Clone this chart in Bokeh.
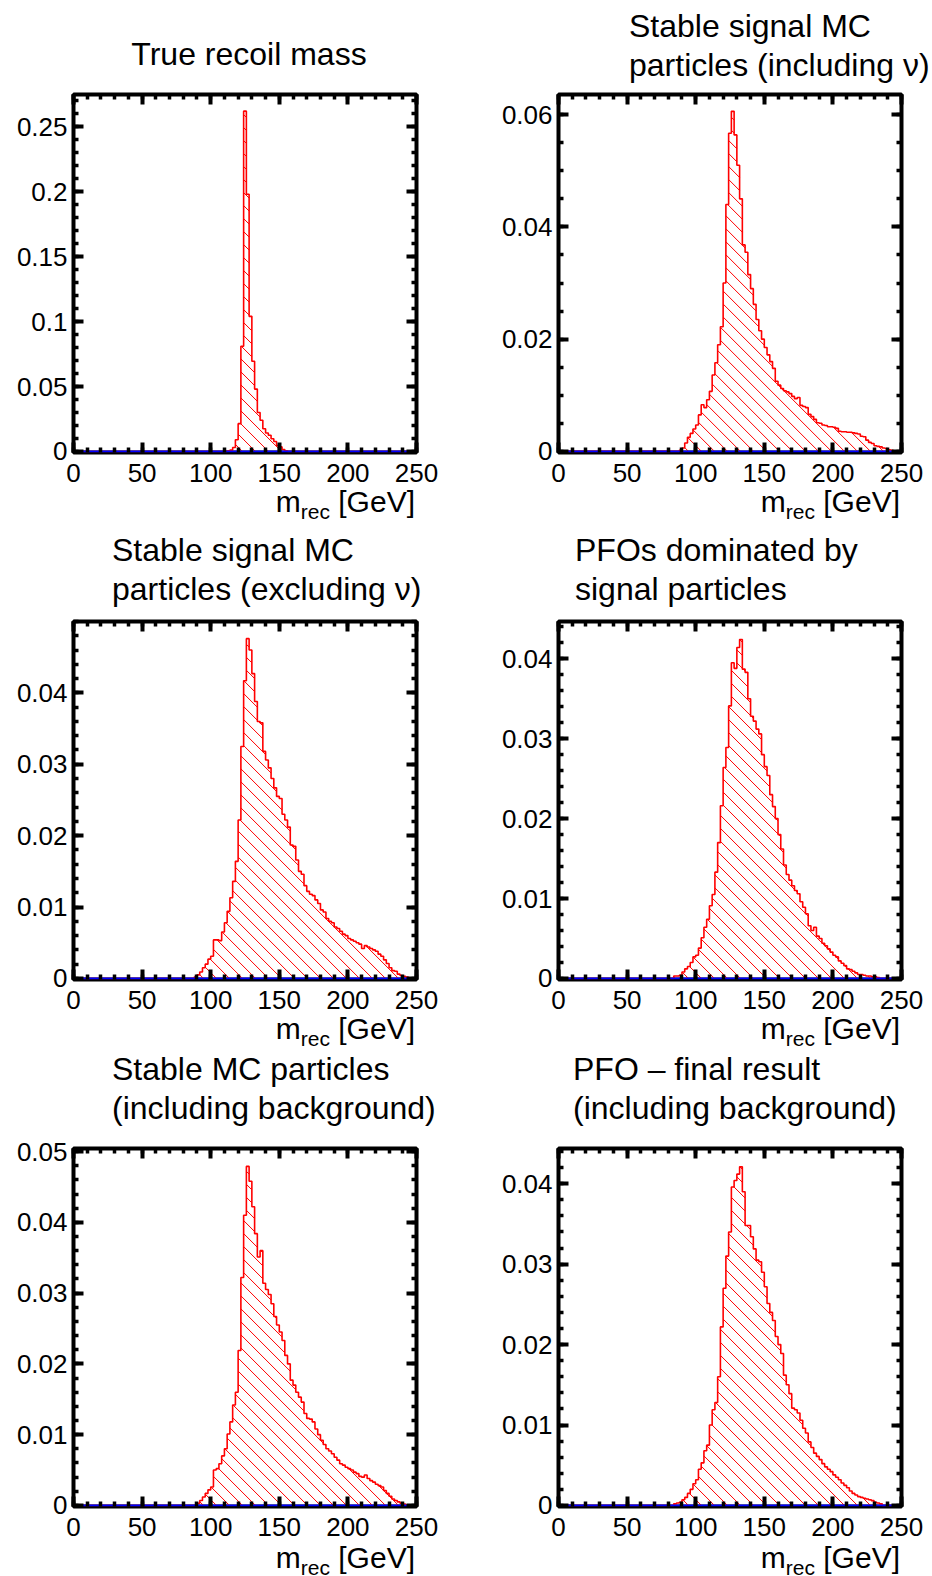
import numpy as np
from bokeh.plotting import figure
from bokeh.layouts import column, row
from bokeh.models import FixedTicker, LinearAxis, Range1d, Div
from bokeh.embed import file_html
from bokeh.resources import INLINE

FONT = "Liberation Sans"

# ---------------- data ----------------
bin_width = 2
x_lo, x_hi = 0, 250
x_major = [0, 50, 100, 150, 200, 250]
x_major_labels = ["0", "50", "100", "150", "200", "250"]
x_minor = list(range(0, 251, 10))

# Panel 1: True recoil mass
p1_title = ["True recoil mass"]
p1_first_bin = 112
p1_values = [0.0005, 0.001, 0.003, 0.009, 0.0214, 0.081, 0.262, 0.198, 0.104,
             0.0695, 0.048, 0.030, 0.024, 0.0175, 0.0142, 0.0125, 0.0098,
             0.0077, 0.0045, 0.0035, 0.0015, 0.0005]
p1_y_ticks = [0, 0.05, 0.1, 0.15, 0.2, 0.25]
p1_y_labels = ["0", "0.05", "0.1", "0.15", "0.2", "0.25"]

# Panel 2: Stable signal MC particles (including nu)
p2_title = ["Stable signal MC", "particles (including \u03bd)"]
p2_first_bin = 88
p2_values = [0.0002, 0.0006, 0.0015, 0.0025, 0.0032, 0.0040, 0.0047, 0.0065,
             0.0083, 0.0078, 0.0092, 0.0107, 0.0136, 0.0158, 0.0190, 0.0222,
             0.0300, 0.0440, 0.0567, 0.0606, 0.0564, 0.0510, 0.0450, 0.0368,
             0.0355, 0.0315, 0.0290, 0.0262, 0.0235, 0.0215, 0.0200, 0.0185,
             0.0172, 0.0160, 0.0148, 0.0125, 0.0118, 0.0112, 0.0108, 0.0106,
             0.0103, 0.0098, 0.0094, 0.0096, 0.0082, 0.0080, 0.0078, 0.0066,
             0.0062, 0.0057, 0.0051, 0.0050, 0.0047, 0.0046, 0.0044, 0.0044,
             0.0043, 0.0041, 0.0036, 0.0035, 0.0035, 0.0034, 0.0034, 0.0033,
             0.0032, 0.0031, 0.0027, 0.0026, 0.0020, 0.0016, 0.0014, 0.0010,
             0.0009, 0.0008, 0.0006, 0.0005, 0.0003, 0.0002, 0.0001]
p2_y_ticks = [0, 0.02, 0.04, 0.06]
p2_y_labels = ["0", "0.02", "0.04", "0.06"]

# Panel 3: Stable signal MC particles (excluding nu)
p3_title = ["Stable signal MC", "particles (excluding \u03bd)"]
p3_first_bin = 88
p3_values = [0.0002, 0.0005, 0.0009, 0.0015, 0.0020, 0.0027, 0.0031, 0.0054,
             0.0054, 0.0053, 0.0065, 0.0078, 0.0094, 0.0113, 0.0136, 0.0164,
             0.0222, 0.0325, 0.0417, 0.0476, 0.0460, 0.0427, 0.0388, 0.0360,
             0.0358, 0.0318, 0.0306, 0.0295, 0.0280, 0.0267, 0.0255, 0.0252,
             0.0230, 0.0222, 0.0212, 0.0187, 0.0185, 0.0166, 0.0150, 0.0146,
             0.0130, 0.0122, 0.0118, 0.0116, 0.0110, 0.0105, 0.0096, 0.0093,
             0.0084, 0.0080, 0.0078, 0.0072, 0.0070, 0.0066, 0.0062, 0.0060,
             0.0056, 0.0054, 0.0052, 0.0050, 0.0048, 0.0042, 0.0046, 0.0044,
             0.0042, 0.0040, 0.0038, 0.0034, 0.0031, 0.0026, 0.0021, 0.0015,
             0.0011, 0.0010, 0.0006, 0.0004, 0.0003, 0.0002, 0.0001]
p3_y_ticks = [0, 0.01, 0.02, 0.03, 0.04]
p3_y_labels = ["0", "0.01", "0.02", "0.03", "0.04"]

# Panel 4: PFOs dominated by signal particles
p4_title = ["PFOs dominated by", "signal particles"]
p4_first_bin = 84
p4_values = [0.0003, 0.0003, 0.0004, 0.0008, 0.0012, 0.0015, 0.0020, 0.0027,
             0.0029, 0.0038, 0.0051, 0.0064, 0.0074, 0.0091, 0.0105, 0.0133,
             0.0170, 0.0216, 0.0264, 0.0289, 0.0341, 0.0395, 0.0388, 0.0414,
             0.0424, 0.0387, 0.0383, 0.0350, 0.0328, 0.0322, 0.0312, 0.0306,
             0.0280, 0.0265, 0.0254, 0.0230, 0.0215, 0.0200, 0.0180, 0.0162,
             0.0142, 0.0130, 0.0123, 0.0116, 0.0110, 0.0106, 0.0096, 0.0089,
             0.0081, 0.0066, 0.0060, 0.0064, 0.0053, 0.0050, 0.0044, 0.0041,
             0.0037, 0.0033, 0.0029, 0.0027, 0.0022, 0.0019, 0.0016, 0.0012,
             0.0011, 0.0009, 0.0007, 0.0005, 0.0005, 0.0004, 0.0003, 0.0003,
             0.0002, 0.0002, 0.0001]
p4_y_ticks = [0, 0.01, 0.02, 0.03, 0.04]
p4_y_labels = ["0", "0.01", "0.02", "0.03", "0.04"]

# Panel 5: Stable MC particles (including background)
p5_title = ["Stable MC particles", "(including background)"]
p5_first_bin = 90
p5_values = [0.0003, 0.0007, 0.0012, 0.0017, 0.0022, 0.0026, 0.0050, 0.0052,
             0.0059, 0.0070, 0.0080, 0.0101, 0.0118, 0.0142, 0.0160, 0.0219,
             0.0322, 0.0410, 0.0479, 0.0458, 0.0422, 0.0384, 0.0351, 0.0360,
             0.0314, 0.0305, 0.0298, 0.0285, 0.0267, 0.0255, 0.0245, 0.0233,
             0.0212, 0.0200, 0.0177, 0.0170, 0.0160, 0.0153, 0.0146, 0.0130,
             0.0123, 0.0122, 0.0118, 0.0108, 0.0100, 0.0092, 0.0086, 0.0080,
             0.0077, 0.0073, 0.0068, 0.0064, 0.0059, 0.0057, 0.0054, 0.0052,
             0.0050, 0.0047, 0.0045, 0.0041, 0.0040, 0.0043, 0.0038, 0.0035,
             0.0033, 0.0030, 0.0028, 0.0026, 0.0021, 0.0017, 0.0013, 0.0009,
             0.0007, 0.0005, 0.0003, 0.0002, 0.0001]
p5_y_ticks = [0, 0.01, 0.02, 0.03, 0.04, 0.05]
p5_y_labels = ["0", "0.01", "0.02", "0.03", "0.04", "0.05"]

# Panel 6: PFO - final result (including background)
p6_title = ["PFO \u2013 final result", "(including background)"]
p6_first_bin = 84
p6_values = [0.0002, 0.0003, 0.0004, 0.0007, 0.0010, 0.0015, 0.0020, 0.0027,
             0.0032, 0.0045, 0.0053, 0.0068, 0.0075, 0.0100, 0.0119, 0.0128,
             0.0160, 0.0222, 0.0270, 0.0310, 0.0340, 0.0396, 0.0404, 0.0412,
             0.0421, 0.0390, 0.0348, 0.0348, 0.0334, 0.0319, 0.0305, 0.0303,
             0.0290, 0.0272, 0.0251, 0.0240, 0.0230, 0.0210, 0.0200, 0.0189,
             0.0162, 0.0150, 0.0139, 0.0121, 0.0119, 0.0115, 0.0106, 0.0096,
             0.0090, 0.0079, 0.0072, 0.0065, 0.0061, 0.0057, 0.0052, 0.0048,
             0.0045, 0.0042, 0.0038, 0.0035, 0.0032, 0.0028, 0.0025, 0.0022,
             0.0018, 0.0015, 0.0013, 0.0011, 0.0010, 0.0009, 0.0008, 0.0007,
             0.0006, 0.0004, 0.0003, 0.0002]
p6_y_ticks = [0, 0.01, 0.02, 0.03, 0.04]
p6_y_labels = ["0", "0.01", "0.02", "0.03", "0.04"]

x_axis_label_html = "m<span style=\"font-size:21px; position:relative; top:7px;\">rec</span> [GeV]"

# ---------------- layout / style ----------------
COL_W = 466
FRAME_W, FRAME_H = 343, 358
COLS = [dict(left=73, right=50, label_pad=51), dict(left=92, right=31, label_pad=32)]
ROWS = [dict(title_h=84, top=10, label_h=36, label_lh=19),
        dict(title_h=83, top=10, label_h=29, label_lh=19),
        dict(title_h=84, top=16, label_h=30, label_lh=23)]
BOTTOM = 40
HATCH_SPACING = 13  # px, 45 degree hatching

panels = [
    dict(title=p1_title, first=p1_first_bin, vals=p1_values, yt=p1_y_ticks, yl=p1_y_labels,
         ymin=-0.0008, ymax=0.2748, minor=0.01, r=0, c=0, pad_top=35, pad_left=32, center=True),
    dict(title=p2_title, first=p2_first_bin, vals=p2_values, yt=p2_y_ticks, yl=p2_y_labels,
         ymin=-0.0002, ymax=0.0636, minor=0.005, r=0, c=1, pad_top=7, pad_left=163, center=False),
    dict(title=p3_title, first=p3_first_bin, vals=p3_values, yt=p3_y_ticks, yl=p3_y_labels,
         ymin=-0.00015, ymax=0.0500, minor=0.002, r=1, c=0, pad_top=3, pad_left=112, center=False),
    dict(title=p4_title, first=p4_first_bin, vals=p4_values, yt=p4_y_ticks, yl=p4_y_labels,
         ymin=-0.00013, ymax=0.04466, minor=0.002, r=1, c=1, pad_top=3, pad_left=109, center=False),
    dict(title=p5_title, first=p5_first_bin, vals=p5_values, yt=p5_y_ticks, yl=p5_y_labels,
         ymin=-0.00015, ymax=0.05043, minor=0.002, r=2, c=0, pad_top=2, pad_left=112, center=False),
    dict(title=p6_title, first=p6_first_bin, vals=p6_values, yt=p6_y_ticks, yl=p6_y_labels,
         ymin=-0.00013, ymax=0.04438, minor=0.002, r=2, c=1, pad_top=2, pad_left=107, center=False),
]


def style_axis(ax, ticks, minor, labels=None, show_labels=True):
    ax.ticker = FixedTicker(ticks=ticks, minor_ticks=minor)
    ax.axis_line_color = None
    ax.major_tick_in = 10
    ax.major_tick_out = 0
    ax.major_tick_line_width = 4
    ax.major_tick_line_color = "black"
    ax.minor_tick_in = 5
    ax.minor_tick_out = 0
    ax.minor_tick_line_width = 3.5
    ax.minor_tick_line_color = "black"
    ax.major_label_text_font = FONT
    ax.major_label_text_color = "black"
    if show_labels:
        ax.major_label_text_font_size = "26px"
        ax.major_label_overrides = {t: l for t, l in zip(ticks, labels)}
    else:
        ax.major_label_text_font_size = "1px"
        ax.major_label_overrides = {t: "" for t in ticks}
    ax.axis_label = None


def hatch_lines(edges, counts, px_x, px_y, spacing):
    """45-degree '\\' hatching inside the histogram area, computed in screen space."""
    X = edges * px_x
    H = counts * px_y
    xs, ys = [], []
    cmax = X[-1] + H.max() + spacing
    for c in np.arange(spacing, cmax, spacing):
        seg = None
        for i in range(len(counts)):
            if H[i] <= 0:
                continue
            a = max(X[i], c - H[i])
            b = min(X[i + 1], c)
            if b - a <= 1e-6:
                continue
            if seg is not None and abs(a - seg[1]) < 1e-6:
                seg[1] = b
            else:
                if seg is not None:
                    xs.append([seg[0] / px_x, seg[1] / px_x])
                    ys.append([(c - seg[0]) / px_y, (c - seg[1]) / px_y])
                seg = [a, b]
        if seg is not None:
            xs.append([seg[0] / px_x, seg[1] / px_x])
            ys.append([(c - seg[0]) / px_y, (c - seg[1]) / px_y])
    return xs, ys


def make_fig(d):
    col, rw = COLS[d["c"]], ROWS[d["r"]]
    p = figure(width=COL_W, height=rw["top"] + FRAME_H + BOTTOM, output_backend="svg",
               toolbar_location=None,
               x_range=Range1d(x_lo, x_hi), y_range=Range1d(d["ymin"], d["ymax"]),
               min_border_left=col["left"], min_border_right=col["right"],
               min_border_top=rw["top"], min_border_bottom=BOTTOM)
    p.grid.visible = False
    p.outline_line_color = "black"
    p.outline_line_width = 4
    p.background_fill_color = "white"
    p.border_fill_color = "white"

    edges = np.arange(x_lo, x_hi + bin_width, bin_width)
    counts = np.zeros(len(edges) - 1)
    i0 = (d["first"] - x_lo) // bin_width
    counts[i0:i0 + len(d["vals"])] = d["vals"]
    ys = np.append(counts, counts[-1])

    px_x = FRAME_W / (x_hi - x_lo)
    px_y = FRAME_H / (d["ymax"] - d["ymin"])
    hx, hy = hatch_lines(edges.astype(float), counts, px_x, px_y, HATCH_SPACING)
    p.multi_line(xs=hx, ys=hy, line_color="#ff0000", line_width=1.0)
    p.step(x=edges, y=ys, mode="after", line_color="#ff0000", line_width=1.6)
    p.line(x=[x_lo, x_hi], y=[0, 0], line_color="#0000ff", line_width=2)

    y_minor = list(np.round(np.arange(0, d["ymax"] + 1e-9, d["minor"]), 6))
    style_axis(p.xaxis[0], x_major, x_minor, x_major_labels)
    p.xaxis[0].major_label_standoff = 11
    style_axis(p.yaxis[0], d["yt"], y_minor, d["yl"])
    p.yaxis[0].major_label_standoff = 6

    top = LinearAxis()
    style_axis(top, x_major, x_minor, show_labels=False)
    p.add_layout(top, "above")
    right = LinearAxis()
    style_axis(right, d["yt"], y_minor, show_labels=False)
    p.add_layout(right, "right")
    return p


def make_title(d):
    rw = ROWS[d["r"]]
    align = "center" if d["center"] else "left"
    html = ("<div style=\"width:%dpx; box-sizing:border-box; font-family:'Liberation Sans'; "
            "font-size:32px; line-height:39px; color:black; white-space:nowrap; "
            "text-align:%s; padding-top:%dpx; padding-left:%dpx;\">%s</div>"
            % (COL_W, align, d["pad_top"], d["pad_left"], "<br>".join(d["title"])))
    return Div(text=html, width=COL_W, height=rw["title_h"], margin=0)


def make_xlabel(d):
    rw, col = ROWS[d["r"]], COLS[d["c"]]
    html = ("<div style=\"width:%dpx; box-sizing:border-box; font-family:'Liberation Sans'; "
            "font-size:30px; line-height:%dpx; color:black; white-space:nowrap; "
            "text-align:right; padding-right:%dpx;\">%s</div>"
            % (COL_W, rw["label_lh"], col["label_pad"], x_axis_label_html))
    return Div(text=html, width=COL_W, height=rw["label_h"], margin=0)


cells = [column(make_title(d), make_fig(d), make_xlabel(d), spacing=0) for d in panels]
layout = column(row(cells[0], cells[1], spacing=0),
                row(cells[2], cells[3], spacing=0),
                row(cells[4], cells[5], spacing=0), spacing=0)

open("out.html", "w").write(file_html(layout, INLINE))
